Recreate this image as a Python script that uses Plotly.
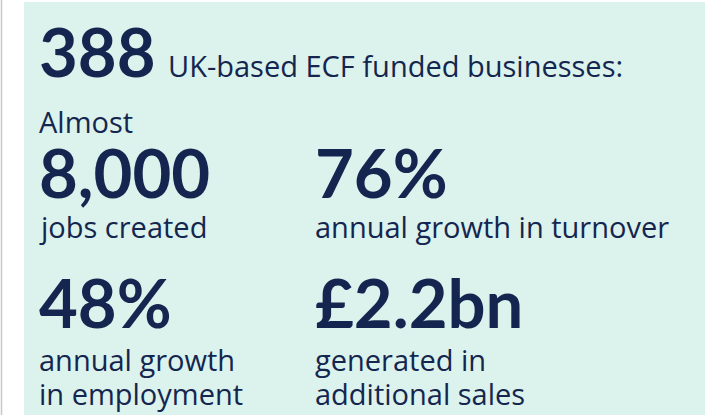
import plotly.graph_objects as go

# Data (text content of the infographic)
headline_value = "388"
headline_label = "UK-based ECF funded businesses:"
prefix_label = "Almost"
stat_values = ["8,000", "76%", "48%", "£2.2bn"]
stat_labels = [
    ["jobs created"],
    ["annual growth in turnover"],
    ["annual growth", "in employment"],
    ["generated in", "additional sales"],
]

W, H = 705, 415
BG = "#DCF2EC"
NAVY = "#14264F"
BIG_FONT = "Lato"
SMALL_FONT = "Open Sans"
ASC = 0.387  # center offset above baseline (fraction of font size)

fig = go.Figure()
fig.add_trace(go.Scatter(x=[0, W], y=[0, H], mode="markers",
                         marker=dict(opacity=0), hoverinfo="skip", showlegend=False))

annotations = []


def place(text, x, baseline, size, family, bold=False):
    annotations.append(dict(
        x=x, y=baseline - ASC * size, xref="x", yref="y",
        text=f"<b>{text}</b>" if bold else text,
        showarrow=False, xanchor="left", yanchor="middle",
        font=dict(family=family, size=size, color=NAVY),
        borderpad=0,
    ))


BIG, SMALL = 67, 29
place(headline_value, 38, 77, BIG, BIG_FONT, True)
place(headline_label, 167, 77, SMALL, SMALL_FONT)
place(prefix_label, 38, 133, SMALL, SMALL_FONT)

cols = [38, 314]
stat_base = [198, 198, 328, 328]
label_base = [[238], [238], [371, 405], [371, 405]]
for i, (v, lbls) in enumerate(zip(stat_values, stat_labels)):
    x = cols[i % 2]
    place(v, x, stat_base[i], BIG, BIG_FONT, True)
    for lb, yb in zip(lbls, label_base[i]):
        place(lb, x, yb, SMALL, SMALL_FONT)

shapes = [
    dict(type="rect", xref="x", yref="y", x0=24, x1=W, y0=2, y1=H,
         fillcolor=BG, line=dict(width=0), layer="below"),
    dict(type="line", xref="x", yref="y", x0=1.5, x1=1.5, y0=0, y1=H,
         line=dict(color="#C8C8C8", width=1.5), layer="below"),
]

fig.update_layout(
    width=W, height=H,
    margin=dict(l=0, r=0, t=0, b=0),
    paper_bgcolor="white", plot_bgcolor="white",
    xaxis=dict(range=[0, W], visible=False, fixedrange=True),
    yaxis=dict(range=[H, 0], visible=False, fixedrange=True),
    annotations=annotations, shapes=shapes, showlegend=False,
)

html = fig.to_html(config={"displayModeBar": False})
html = html.replace("<body>", '<body style="margin:0;padding:0;overflow:hidden">', 1)
with open("out.html", "w", encoding="utf-8") as f:
    f.write(html)
